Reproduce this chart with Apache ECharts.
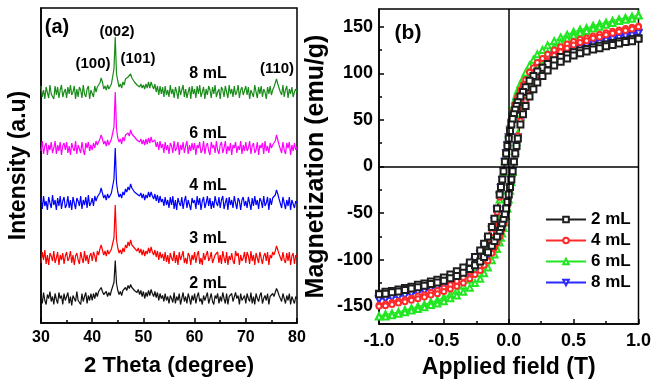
<!DOCTYPE html>
<html><head><meta charset="utf-8">
<script src="https://cdn.jsdelivr.net/npm/echarts@6/dist/echarts.min.js"></script>
<style>html,body{margin:0;padding:0;background:#fff}#c{width:654px;height:385px}</style>
</head><body><div id="c"></div>
<script>
// ---------- Panel (a): XRD patterns ----------
const twoThetaStart = 30, twoThetaStep = 0.25, twoThetaCount = 201;
const xrdSamples = ['2 mL', '3 mL', '4 mL', '6 mL', '8 mL'];
const xrdOffsets = [24.5, 65, 120, 175, 231];
const peakLabels = ['(100)', '(002)', '(101)', '(110)'];

const xrd2 = [
 3,-5,6,-2,-6,4,0,7,-3,2,-6,5,-1,-5,6,0,3,-6,5,-2,
 -3,6,-5,2,-7,3,5,-3,7,-2,0,-6,5,-3,2,6,-5,3,-2,5,
 -2,5,0,6,2,7,8,11,7,4,3,7,2,6,3,8,10,16,38,15,
 8,4,7,3,8,6,11,8,13,10,14,11,12,8,10,6,9,4,8,2,
 7,0,6,2,8,3,9,5,2,7,1,6,-2,5,0,3,-3,5,-2,2,
 -5,3,0,-4,6,-5,2,-2,5,-6,0,6,-3,2,-5,5,0,-6,3,-2,
 5,-5,2,6,-3,0,-6,3,-2,2,6,-5,0,5,-3,-6,3,0,5,-5,
 2,-3,6,0,-5,5,-6,2,0,5,-3,-5,6,0,3,-6,5,-2,0,3,
 -5,5,0,-3,6,-5,2,-6,5,0,-3,3,6,-5,0,3,-2,5,-6,2,
 0,5,2,6,10,7,3,2,-3,5,0,-5,3,-2,5,-6,2,3,-5,2,
 0];
const xrd3 = [
 -5,6,-2,8,-6,3,-7,5,2,-3,7,-5,0,6,-7,3,-2,5,-6,2,
 6,-3,0,7,-5,3,-7,2,5,-2,-6,6,0,-5,7,-3,3,-6,2,5,
 -3,6,2,-4,7,3,9,13,8,3,7,2,8,4,3,9,11,20,53,18,
 10,5,8,4,10,6,13,10,16,12,18,13,15,10,12,7,10,5,9,3,
 8,2,7,4,10,5,11,6,3,8,1,7,-2,6,0,4,-3,6,-4,3,
 -6,5,0,-3,7,-5,3,-7,6,-2,2,7,-5,0,-6,5,2,-7,3,-2,
 6,-5,3,7,-6,0,-7,5,-2,3,7,-3,0,6,-5,-7,3,2,6,-5,
 3,-6,7,0,-5,6,-7,2,-2,5,-3,-6,7,2,5,-7,3,-3,0,6,
 -5,6,2,-6,7,-3,3,-7,5,0,-5,6,7,-6,2,5,-3,6,-7,3,
 0,6,3,7,12,8,4,3,-3,6,-2,-5,5,-3,6,-7,2,5,-6,3,
 1];
const xrd4 = [
 5,-6,7,-3,2,-7,6,0,-5,8,-2,3,-7,5,-3,7,-6,2,6,-5,
 -2,7,-5,3,-7,6,0,-6,5,2,-3,7,-6,3,-2,6,-5,8,-3,0,
 5,-3,7,2,6,4,10,15,10,5,8,3,9,5,4,10,12,24,55,20,
 11,6,9,5,11,8,14,11,16,13,19,15,16,11,13,9,11,7,10,5,
 9,3,8,5,11,6,11,7,4,9,2,8,0,7,1,4,-3,6,-2,3,
 -5,6,-2,7,-6,3,-7,5,0,-3,6,-6,2,7,-5,3,-2,-7,5,0,
 3,-6,7,-2,5,-7,2,6,-5,0,7,-3,5,-6,2,-5,7,0,-3,6,
 -5,3,7,-6,0,5,-7,6,-2,3,-5,7,0,-6,5,2,-7,3,6,-3,
 2,-5,6,0,-7,5,-3,7,-2,3,-6,5,2,-5,7,-3,0,6,-7,5,
 -2,5,3,8,13,9,4,2,-5,6,0,-6,3,-3,6,-7,3,5,-5,2,
 0];
const xrd6 = [
 -3,7,-6,2,5,-7,3,-2,6,-5,0,7,-6,3,-3,6,-7,2,5,-2,
 6,-5,2,-7,5,0,-3,7,-6,3,2,-5,6,-2,-7,5,0,6,-3,3,
 -2,5,0,7,3,5,9,13,9,4,7,2,8,3,5,9,11,21,56,19,
 10,6,9,4,11,7,13,11,15,12,18,14,16,11,12,8,10,6,9,4,
 8,3,9,4,10,5,11,6,4,8,1,6,-2,7,0,4,-5,6,-2,3,
 -6,5,2,-5,7,-3,0,6,-7,3,-2,6,-5,2,7,-6,3,-3,5,-2,
 5,-7,3,0,6,-5,-2,7,-6,2,5,-3,-7,6,0,3,-5,7,-2,-6,
 3,6,-5,0,7,-6,2,-3,5,-7,3,0,6,-5,2,-2,7,-6,3,-3,
 6,-3,0,7,-6,2,5,-5,-2,6,-7,3,0,5,-6,7,-3,2,-5,5,
 0,3,5,7,13,8,3,2,-5,6,-2,-6,5,0,6,-7,3,-3,5,-2,
 1];
const xrd8 = [
 6,-5,2,-7,5,3,-6,7,-2,0,-7,6,-3,5,-6,2,7,-5,0,3,
 -6,5,-2,7,-3,0,6,-7,3,-5,5,2,-6,7,-2,-5,3,6,-7,2,
 3,-5,6,0,5,3,9,14,10,3,6,2,7,3,5,8,10,23,55,18,
 11,5,8,4,10,7,13,11,15,13,18,14,15,10,12,7,9,5,8,4,
 7,3,8,4,10,4,10,6,3,8,0,6,-3,6,-2,5,-5,6,-3,2,
 -5,7,-2,3,-6,5,0,-7,6,-3,2,7,-5,3,-6,0,5,-7,6,-2,
 3,-6,6,-2,7,-5,0,5,-7,3,-3,6,2,-6,5,-2,7,-5,0,3,
 -7,5,2,-5,6,0,-6,7,-2,3,-5,6,-3,0,7,-6,2,5,-3,-2,
 6,-3,5,-7,2,3,-5,7,0,-6,5,-2,6,-5,3,0,-7,5,-2,6,
 -3,2,5,7,13,8,4,0,-3,7,-5,2,6,-6,3,-2,5,-5,0,3,
 0];

// ---------- Panel (b): M-H loops ----------
const hystSamples = ['2 mL', '4 mL', '6 mL', '8 mL'];
const fieldDown = [1.0,0.95,0.9,0.85,0.8,0.75,0.7,0.65,0.6,0.55,0.5,0.45,0.4,0.35,0.3,0.26,0.22,0.19,0.16,0.13,0.11,0.09,0.07,0.06,0.05,0.04,0.03,0.02,0.01,0,-0.01,-0.02,-0.03,-0.04,-0.05,-0.06,-0.07,-0.09,-0.11,-0.13,-0.16,-0.19,-0.22,-0.26,-0.3,-0.35,-0.4,-0.45,-0.5,-0.55,-0.6,-0.65,-0.7,-0.75,-0.8,-0.85,-0.9,-0.95,-1.0];
const fieldUp = [-1.0,-0.95,-0.9,-0.85,-0.8,-0.75,-0.7,-0.65,-0.6,-0.55,-0.5,-0.45,-0.4,-0.35,-0.3,-0.26,-0.22,-0.19,-0.16,-0.13,-0.11,-0.09,-0.07,-0.06,-0.05,-0.04,-0.03,-0.02,-0.01,0,0.01,0.02,0.03,0.04,0.05,0.06,0.07,0.09,0.11,0.13,0.16,0.19,0.22,0.26,0.3,0.35,0.4,0.45,0.5,0.55,0.6,0.65,0.7,0.75,0.8,0.85,0.9,0.95,1.0];

const m2Down = [137.5,136.5,135,134,132.5,131,129.5,128,126,124.5,122.5,120,117.5,114,110,106,102,97,92,85,80,75,69,65,61,56,51,45,38,30,22,14,5,-5,-14,-22,-30,-45,-56,-65,-75,-83,-90,-97,-103,-108.5,-112.5,-116,-119,-121.5,-123.5,-125.5,-127,-129,-130.5,-132,-133.5,-134.5,-136.5];
const m2Up = [-137,-136.5,-135,-134,-132.5,-131,-129.5,-128,-126,-124.5,-122.5,-120,-117.5,-114,-110,-106,-102,-97,-92,-85,-80,-75,-69,-65,-61,-56,-51,-45,-38,-30,-22,-14,-5,5,14,22,30,45,56,65,75,83,90,97,103,108.5,112.5,116,119,121.5,123.5,125.5,127,129,130.5,132,133.5,134.5,137];
const m4Down = [150.5,149.5,148,146.5,145,143.5,142,140,138,136.5,134,131.5,128.5,125,120.5,116,111.5,106,101,93,87.5,82,75.5,71,67,61.5,56,49,41.5,33,24,15.5,5.5,-5.5,-15.5,-24,-33,-49,-61.5,-71,-82,-91,-98.5,-106,-113,-119,-123,-127,-130.5,-133,-135,-137.5,-139,-141.5,-143,-144.5,-146,-147.5,-149];
const m4Up = [-150,-149.5,-148,-146.5,-145,-143.5,-142,-140,-138,-136.5,-134,-131.5,-128.5,-125,-120.5,-116,-111.5,-106,-101,-93,-87.5,-82,-75.5,-71,-67,-61.5,-56,-49,-41.5,-33,-24,-15.5,-5.5,5.5,15.5,24,33,49,61.5,71,82,91,98.5,106,113,119,123,127,130.5,133,135,137.5,139,141.5,143,144.5,146,147.5,150];
const m6Down = [162.5,161,159.5,158,156.5,154.5,153,151,148.5,147,144.5,141.5,138.5,134.5,130,125,120.5,114.5,108.5,100.5,94.5,88.5,81.5,76.5,72,66,60,53,45,35.5,26,16.5,6,-6,-16.5,-26,-35.5,-53,-66,-76.5,-88.5,-98,-106,-114.5,-121.5,-128,-133,-137,-140.5,-143.5,-145.5,-148,-150,-152,-154,-156,-157.5,-158.5,-160.5];
const m6Up = [-161,-161,-159.5,-158,-156.5,-154.5,-153,-151,-148.5,-147,-144.5,-141.5,-138.5,-134.5,-130,-125,-120.5,-114.5,-108.5,-100.5,-94.5,-88.5,-81.5,-76.5,-72,-66,-60,-53,-45,-35.5,-26,-16.5,-6,6,16.5,26,35.5,53,66,76.5,88.5,98,106,114.5,121.5,128,133,137,140.5,143.5,145.5,148,150,152,154,156,157.5,158.5,162];
const m8Down = [143.5,142.5,141,140,138.5,137,135.5,134,131.5,130,128,125.5,123,119,115,111,106.5,101.5,96,89,83.5,78.5,72,68,63.5,58.5,53.5,47,39.5,31.5,23,14.5,5,-5,-14.5,-23,-31.5,-47,-58.5,-68,-78.5,-86.5,-94,-101.5,-107.5,-113.5,-117.5,-121,-124.5,-127,-129,-131,-132.5,-135,-136.5,-138,-139.5,-140.5,-142];
const m8Up = [-143,-142.5,-141,-140,-138.5,-137,-135.5,-134,-131.5,-130,-128,-125.5,-123,-119,-115,-111,-106.5,-101.5,-96,-89,-83.5,-78.5,-72,-68,-63.5,-58.5,-53.5,-47,-39.5,-31.5,-23,-14.5,-5,5,14.5,23,31.5,47,58.5,68,78.5,86.5,94,101.5,107.5,113.5,117.5,121,124.5,127,129,131,132.5,135,136.5,138,139.5,140.5,143];

const magTicks = [-150, -100, -50, 0, 50, 100, 150];
const magMinorTicks = [-125, -75, -25, 25, 75, 125];

// ---------- build ----------
const FONT = '"Liberation Sans", Arial, sans-serif';
const twoTheta = [];
for (let i = 0; i < twoThetaCount; i++) twoTheta.push(+(twoThetaStart + i * twoThetaStep).toFixed(2));

const xrdRaw = [xrd2, xrd3, xrd4, xrd6, xrd8];
const xrdColors = ['#111111', '#ff0000', '#0000ff', '#ff00ff', '#1a8c1a'];
const series = [];
xrdRaw.forEach((arr, k) => {
  series.push({
    name: 'XRD ' + xrdSamples[k], type: 'line', xAxisIndex: 0, yAxisIndex: 0,
    showSymbol: false, symbol: 'none', silent: true,
    data: twoTheta.map((x, i) => [x, arr[i] + xrdOffsets[k]]),
    lineStyle: { color: xrdColors[k], width: 1.2 }, itemStyle: { color: xrdColors[k] }
  });
});

function loop(down, up) {
  return fieldDown.map((h, i) => [h, down[i]]).concat(fieldUp.map((h, i) => [h, up[i]]));
}
const hyst = {
  '2 mL': { d: loop(m2Down, m2Up), color: '#1e1e1e', symbol: 'emptyRect', size: 6, rot: 0 },
  '4 mL': { d: loop(m4Down, m4Up), color: '#ff2a2a', symbol: 'emptyCircle', size: 5, rot: 0 },
  '6 mL': { d: loop(m6Down, m6Up), color: '#22e622', symbol: 'emptyTriangle', size: 6, rot: 0 },
  '8 mL': { d: loop(m8Down, m8Up), color: '#2a2aff', symbol: 'emptyTriangle', size: 6, rot: 180 }
};
['8 mL', '6 mL', '4 mL', '2 mL'].forEach(name => {
  const h = hyst[name];
  const s = {
    name: name, type: 'line', xAxisIndex: 1, yAxisIndex: 1,
    data: h.d, symbol: h.symbol, symbolSize: h.size, symbolRotate: h.rot, showAllSymbol: true,
    lineStyle: { color: h.color, width: 1 },
    itemStyle: { color: h.color, borderWidth: 1 }
  };
  if (name === '2 mL') {
    s.markLine = {
      silent: true, symbol: ['none', 'none'], label: { show: false },
      lineStyle: { color: '#000', width: 1.5, type: 'solid' },
      data: [{ xAxis: 0 }, { yAxis: 0 }]
    };
  }
  series.push(s);
});

const axisLineStyle = { show: true, onZero: false, lineStyle: { color: '#000', width: 1.5 } };
const tickStyle = { color: '#000', width: 1.5 };

function txt(x, y, t, size) {
  return { type: 'text', x: x, y: y, silent: true,
    style: { text: t, font: 'bold ' + size + 'px ' + FONT, fill: '#000', align: 'center', verticalAlign: 'middle' } };
}

const option = {
  animation: false,
  backgroundColor: '#ffffff',
  textStyle: { fontFamily: FONT, fontWeight: 'bold', color: '#000' },
  grid: [
    { left: 41, top: 8, width: 256, height: 315, show: true, borderColor: '#000', borderWidth: 1.5, backgroundColor: 'transparent' },
    { left: 379, top: 9, width: 261, height: 315, show: true, borderColor: '#000', borderWidth: 1.5, backgroundColor: 'transparent' }
  ],
  xAxis: [
    { gridIndex: 0, type: 'value', min: 30, max: 80, interval: 10,
      name: '2 Theta (degree)', nameLocation: 'middle', nameGap: 32,
      nameTextStyle: { fontSize: 22, fontWeight: 'bold', color: '#000', fontFamily: FONT },
      axisLine: axisLineStyle, axisTick: { inside: true, length: 5, lineStyle: tickStyle },
      minorTick: { show: true, splitNumber: 2, length: 3, lineStyle: tickStyle },
      axisLabel: { fontSize: 16, fontWeight: 'bold', color: '#000', margin: 7, fontFamily: FONT },
      splitLine: { show: false } },
    { gridIndex: 1, type: 'value', min: -1, max: 1, interval: 0.5,
      name: 'Applied field (T)', nameLocation: 'middle', nameGap: 32,
      nameTextStyle: { fontSize: 23, fontWeight: 'bold', color: '#000', fontFamily: FONT },
      axisLine: axisLineStyle, axisTick: { inside: true, length: 5, lineStyle: tickStyle },
      minorTick: { show: true, splitNumber: 2, length: 3, lineStyle: tickStyle },
      axisLabel: { fontSize: 18, fontWeight: 'bold', color: '#000', margin: 8, fontFamily: FONT, formatter: v => v.toFixed(1) },
      splitLine: { show: false } }
  ],
  yAxis: [
    { gridIndex: 0, type: 'value', min: 0, max: 315,
      name: 'Intensity (a.u)', nameLocation: 'middle', nameGap: 11,
      nameTextStyle: { fontSize: 23, fontWeight: 'bold', color: '#000', fontFamily: FONT },
      axisLine: axisLineStyle, axisTick: { show: false }, axisLabel: { show: false }, splitLine: { show: false } },
    { gridIndex: 1, type: 'value', min: -169, max: 169, position: 'left',
      name: 'Magnetization (emu/g)', nameLocation: 'middle', nameGap: 50,
      nameTextStyle: { fontSize: 25, fontWeight: 'bold', color: '#000', fontFamily: FONT },
      axisLine: axisLineStyle,
      axisTick: { inside: true, length: 5, lineStyle: tickStyle, customValues: magTicks },
      axisLabel: { fontSize: 18, fontWeight: 'bold', color: '#000', margin: 6, fontFamily: FONT, customValues: magTicks },
      splitLine: { show: false } },
    { gridIndex: 1, type: 'value', min: -169, max: 169, position: 'left', offset: 0,
      axisLine: { show: false, onZero: false },
      axisTick: { inside: true, length: 3, lineStyle: tickStyle, customValues: magMinorTicks },
      axisLabel: { show: false }, splitLine: { show: false } }
  ],
  legend: {
    data: hystSamples, orient: 'vertical', left: 540, top: 206,
    itemWidth: 40, itemHeight: 7, itemGap: 4,
    textStyle: { fontSize: 17, fontWeight: 'bold', color: '#000', fontFamily: FONT }
  },
  graphic: [
    txt(57, 27, '(a)', 20),
    txt(93, 64, peakLabels[0], 15),
    txt(117, 32, peakLabels[1], 15),
    txt(138, 59, peakLabels[2], 15),
    txt(277, 69, peakLabels[3], 15),
    txt(208, 74, xrdSamples[4], 16),
    txt(208, 134, xrdSamples[3], 16),
    txt(208, 186, xrdSamples[2], 16),
    txt(208, 239, xrdSamples[1], 16),
    txt(208, 284, xrdSamples[0], 16),
    txt(408, 33, '(b)', 21)
  ],
  series: series
};
const chart = echarts.init(document.getElementById('c'), null, { renderer: 'canvas' });
chart.setOption(option);
</script>
</body></html>
